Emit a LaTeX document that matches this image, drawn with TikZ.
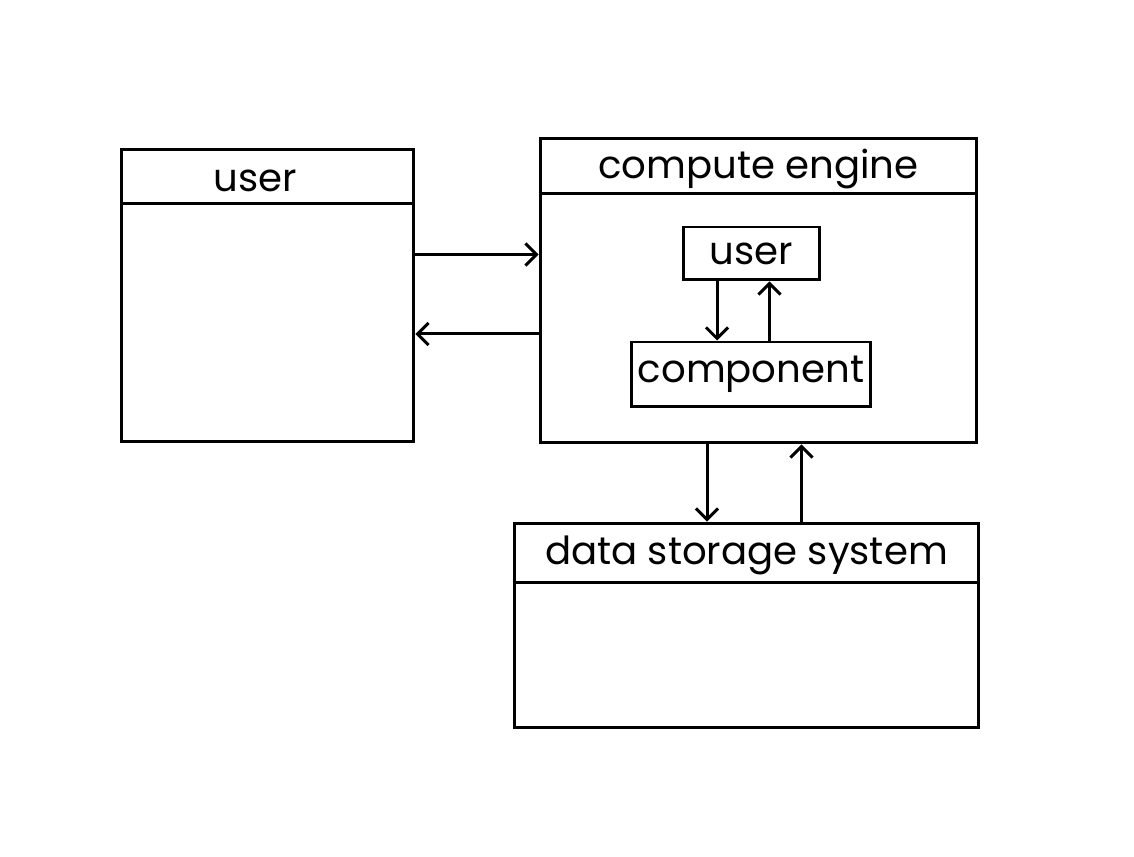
\documentclass[tikz,border=0pt]{standalone}
\usepackage{fontspec}
\setmainfont{Poppins}
\usetikzlibrary{positioning, arrows.meta}
\tikzset{
  panel/.style={
    draw, line width=1.7pt, inner sep=0pt
  },
  smallbox/.style={
    draw, line width=1.7pt, inner sep=0pt,
    font=\fontsize{22}{26}\selectfont
  },
  paneltitle/.style={
    font=\fontsize{22}{26}\selectfont, inner sep=0pt
  },
  flow/.style={
    -{Straight Barb[length=2.2mm, width=4.4mm]}, line width=1.7pt
  },
}

\begin{document}
\begin{tikzpicture}[x=0.02cm, y=-0.02cm]
  \useasboundingbox (0,0) rectangle (1134,857);
  % outer panels
  \node[panel, minimum width=5.86cm, minimum height=5.86cm] (user) at (267.5,295.5) {};
  \node[panel, minimum width=8.74cm, minimum height=6.1cm] (engine) at (758.5,290.5) {};
  \node[panel, minimum width=9.3cm, minimum height=4.1cm] (storage) at (746.5,625.5) {};
  % header lines
  \draw[line width=1.7pt] ([yshift=-1.12cm]user.north west) -- ([yshift=-1.12cm]user.north east);
  \draw[line width=1.7pt] ([yshift=-1.14cm]engine.north west) -- ([yshift=-1.14cm]engine.north east);
  \draw[line width=1.7pt] ([yshift=-1.22cm]storage.north west) -- ([yshift=-1.22cm]storage.north east);
  % titles
  \node[paneltitle] (usertitle) at ([xshift=-0.24cm, yshift=-0.66cm]user.north) {user};
  \node[paneltitle] (enginetitle) at ([yshift=-0.64cm]engine.north) {compute engine};
  \node[paneltitle] (storagetitle) at ([yshift=-0.68cm]storage.north) {data storage system};
  % inside the engine
  \node[smallbox, minimum width=2.74cm, minimum height=1.06cm] (inneruser) at (751.5,253.5) {user};
  \node[smallbox, minimum width=4.8cm, minimum height=1.3cm] (component) at (751,374.5) {component};
  % connectors
  \draw[flow] ([yshift=0.82cm]user.east) -- ([yshift=0.82cm]user.east -| engine.west);
  \draw[flow] ([yshift=-0.77cm]user.east -| engine.west) -- ([yshift=-0.77cm]user.east);
  \draw[flow] ([xshift=-0.69cm]inneruser.south) -- ([xshift=-0.69cm]inneruser.south |- component.north);
  \draw[flow] ([xshift=0.36cm]inneruser.south |- component.north) -- ([xshift=0.36cm]inneruser.south);
  \draw[flow] ([xshift=-1.03cm]engine.south) -- ([xshift=-1.03cm]engine.south |- storage.north);
  \draw[flow] ([xshift=0.86cm]engine.south |- storage.north) -- ([xshift=0.86cm]engine.south);
\end{tikzpicture}
\end{document}
